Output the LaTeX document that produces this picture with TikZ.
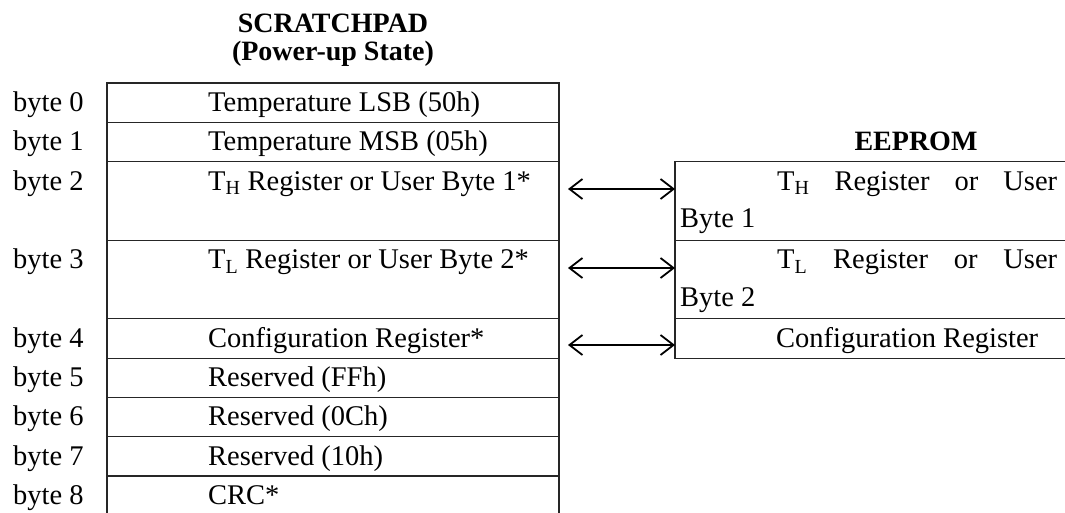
\documentclass[tikz,border=0pt]{standalone}
\usepackage{fontspec}
\setmainfont{Liberation Serif}
\usetikzlibrary{arrows.meta}

\begin{document}
\begin{tikzpicture}[x=1pt,y=-1pt]
  \tikzstyle{cell}=[draw=black!85,line width=1.2pt,minimum width=452pt,minimum height=39.3pt,inner sep=0pt,outer sep=0pt,anchor=north west]
  \tikzstyle{rom}=[cell,minimum width=420pt]
  \tikzstyle{txt}=[anchor=base west,inner sep=0pt,font=\fontsize{28.5}{34}\selectfont]
  \tikzstyle{title}=[anchor=base,inner sep=0pt,font=\fontsize{28}{34}\selectfont\bfseries]
  \tikzstyle{link}=[draw,line width=1.8pt,{Straight Barb[length=13pt,width=20pt]}-{Straight Barb[length=13pt,width=20pt]}]

  \useasboundingbox (0,0) rectangle (1065,512);

  % scratchpad
  \node[title] (sp) at (333,32) {SCRATCHPAD};
  \node[title] (pu) at (333,60) {(Power-up State)};

  \node[cell] (s0) at (107,83) {};
  \node[cell] (s1) at (s0.south west) {};
  \node[cell,minimum height=78.6pt] (s2) at (s1.south west) {};
  \node[cell,minimum height=78.6pt] (s3) at (s2.south west) {};
  \node[cell] (s4) at (s3.south west) {};
  \node[cell] (s5) at (s4.south west) {};
  \node[cell] (s6) at (s5.south west) {};
  \node[cell] (s7) at (s6.south west) {};
  \node[cell] (s8) at (s7.south west) {};

  \node[txt] (b0) at (13,111.5) {byte 0};
  \node[txt] (b1) at (13,150.8) {byte 1};
  \node[txt] (b2) at (13,190.1) {byte 2};
  \node[txt] (b3) at (13,268.7) {byte 3};
  \node[txt] (b4) at (13,347.3) {byte 4};
  \node[txt] (b5) at (13,386.6) {byte 5};
  \node[txt] (b6) at (13,425.9) {byte 6};
  \node[txt] (b7) at (13,465.2) {byte 7};
  \node[txt] (b8) at (13,504.5) {byte 8};

  \node[txt] (t0) at (208,111.5) {Temperature LSB (50h)};
  \node[txt] (t1) at (208,150.8) {Temperature MSB (05h)};
  \node[txt] (t2) at (208,190.1) {T\textsubscript{H} Register or User Byte 1*};
  \node[txt] (t3) at (208,268.7) {T\textsubscript{L} Register or User Byte 2*};
  \node[txt] (t4) at (208,347.3) {Configuration Register*};
  \node[txt] (t5) at (208,386.6) {Reserved (FFh)};
  \node[txt] (t6) at (208,425.9) {Reserved (0Ch)};
  \node[txt] (t7) at (208,465.2) {Reserved (10h)};
  \node[txt] (t8) at (208,504.5) {CRC*};

  % eeprom
  \node[title] (ee) at (916,150) {EEPROM};

  \node[rom,minimum height=78.6pt] (e0) at (675,161.6) {};
  \node[rom,minimum height=78.6pt] (e1) at (e0.south west) {};
  \node[rom] (e2) at (e1.south west) {};

  \node[txt] (r0) at (777,190.1) {\makebox[280pt][s]{T\textsubscript{H} Register or User}};
  \node[txt] (r0b) at (680,227.5) {Byte 1};
  \node[txt] (r1) at (777,268.7) {\makebox[280pt][s]{T\textsubscript{L} Register or User}};
  \node[txt] (r1b) at (680,306.1) {Byte 2};
  \node[txt] (r2) at (776,347.3) {Configuration Register};

  % links
  \coordinate (a0) at (568,189);
  \coordinate (a1) at (568,268);
  \coordinate (a2) at (568,345);
  \path[link] (a0) -- (e0.west |- a0);
  \path[link] (a1) -- (e1.west |- a1);
  \path[link] (a2) -- (e2.west |- a2);
\end{tikzpicture}
\end{document}
